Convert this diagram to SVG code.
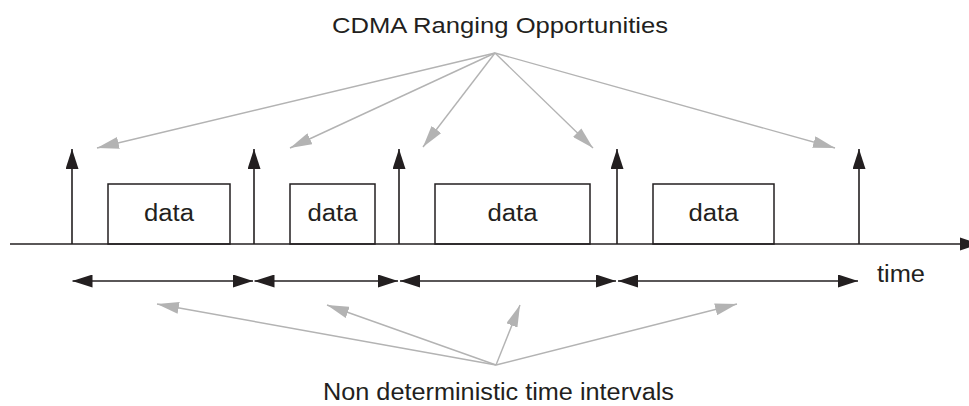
<svg xmlns="http://www.w3.org/2000/svg" width="969" height="406" viewBox="0 0 969 406">
  <style>
    .txt { font-family: "Liberation Sans", Arial, sans-serif; fill: #231f20; }
    .blk { stroke: #231f20; stroke-width: 1.6; fill: none; }
    .box { stroke: #231f20; stroke-width: 1.5; fill: #ffffff; }
    .gry { stroke: #b3b3b3; stroke-width: 1.4; fill: none; }
  </style>
  <defs>
    <marker id="hb" markerUnits="userSpaceOnUse" markerWidth="20" markerHeight="13" refX="20" refY="6.5" orient="auto-start-reverse" viewBox="0 0 20 13">
      <path d="M0,0 L20,6.5 L0,13 Z" fill="#231f20"/>
    </marker>
    <marker id="hg" markerUnits="userSpaceOnUse" markerWidth="22" markerHeight="12" refX="22" refY="6" orient="auto" viewBox="0 0 22 12">
      <path d="M0,0 L22,6 L0,12 Z" fill="#b3b3b3"/>
    </marker>
  </defs>
  <rect width="969" height="406" fill="#ffffff"/>

  <g id="label-top">
    <text class="txt" x="500" y="33" font-size="22" text-anchor="middle" textLength="336" lengthAdjust="spacingAndGlyphs">CDMA Ranging Opportunities</text>
  </g>
  <g id="label-bottom">
    <text class="txt" x="498.5" y="400" font-size="23" text-anchor="middle" textLength="351" lengthAdjust="spacingAndGlyphs">Non deterministic time intervals</text>
  </g>
  <g id="label-time">
    <text class="txt" x="901" y="282" font-size="23" text-anchor="middle" textLength="48" lengthAdjust="spacingAndGlyphs">time</text>
  </g>

  <g id="data1">
    <rect class="box" x="108" y="184" width="122" height="60"/>
    <text class="txt" x="169" y="221" font-size="23" text-anchor="middle" textLength="50" lengthAdjust="spacingAndGlyphs">data</text>
  </g>
  <g id="data2">
    <rect class="box" x="290" y="184" width="85" height="60"/>
    <text class="txt" x="332.5" y="221" font-size="23" text-anchor="middle" textLength="50" lengthAdjust="spacingAndGlyphs">data</text>
  </g>
  <g id="data3">
    <rect class="box" x="435" y="184" width="155" height="60"/>
    <text class="txt" x="512.5" y="221" font-size="23" text-anchor="middle" textLength="50" lengthAdjust="spacingAndGlyphs">data</text>
  </g>
  <g id="data4">
    <rect class="box" x="653" y="184" width="121" height="60"/>
    <text class="txt" x="713.5" y="221" font-size="23" text-anchor="middle" textLength="50" lengthAdjust="spacingAndGlyphs">data</text>
  </g>

  <g id="connectors">
    <!-- time axis -->
    <line class="blk" x1="10" y1="244" x2="960" y2="244"/>
    <path d="M960,237.5 L980,244 L960,250.5 Z" fill="#231f20"/>
    <!-- ranging opportunity arrows -->
    <line class="blk" x1="72" y1="244" x2="72" y2="149" marker-end="url(#hb)"/>
    <line class="blk" x1="254" y1="244" x2="254" y2="149" marker-end="url(#hb)"/>
    <line class="blk" x1="399" y1="244" x2="399" y2="149" marker-end="url(#hb)"/>
    <line class="blk" x1="617" y1="244" x2="617" y2="149" marker-end="url(#hb)"/>
    <line class="blk" x1="859" y1="244" x2="859" y2="149" marker-end="url(#hb)"/>
    <!-- interval arrows -->
    <line class="blk" x1="72.5" y1="281" x2="253" y2="281" marker-start="url(#hb)" marker-end="url(#hb)"/>
    <line class="blk" x1="254.5" y1="281" x2="398" y2="281" marker-start="url(#hb)" marker-end="url(#hb)"/>
    <line class="blk" x1="400" y1="281" x2="616" y2="281" marker-start="url(#hb)" marker-end="url(#hb)"/>
    <line class="blk" x1="618" y1="281" x2="858" y2="281" marker-start="url(#hb)" marker-end="url(#hb)"/>
    <!-- gray pointers from top label -->
    <line class="gry" x1="495" y1="53" x2="97" y2="148" marker-end="url(#hg)"/>
    <line class="gry" x1="495" y1="53" x2="290" y2="148" marker-end="url(#hg)"/>
    <line class="gry" x1="495" y1="53" x2="423" y2="147" marker-end="url(#hg)"/>
    <line class="gry" x1="495" y1="53" x2="593" y2="148" marker-end="url(#hg)"/>
    <line class="gry" x1="495" y1="53" x2="835" y2="148" marker-end="url(#hg)"/>
    <!-- gray pointers from bottom label -->
    <line class="gry" x1="496" y1="365" x2="157" y2="304" marker-end="url(#hg)"/>
    <line class="gry" x1="496" y1="365" x2="327" y2="305" marker-end="url(#hg)"/>
    <line class="gry" x1="496" y1="365" x2="520" y2="305" marker-end="url(#hg)"/>
    <line class="gry" x1="496" y1="365" x2="737" y2="304" marker-end="url(#hg)"/>
  </g>
</svg>
